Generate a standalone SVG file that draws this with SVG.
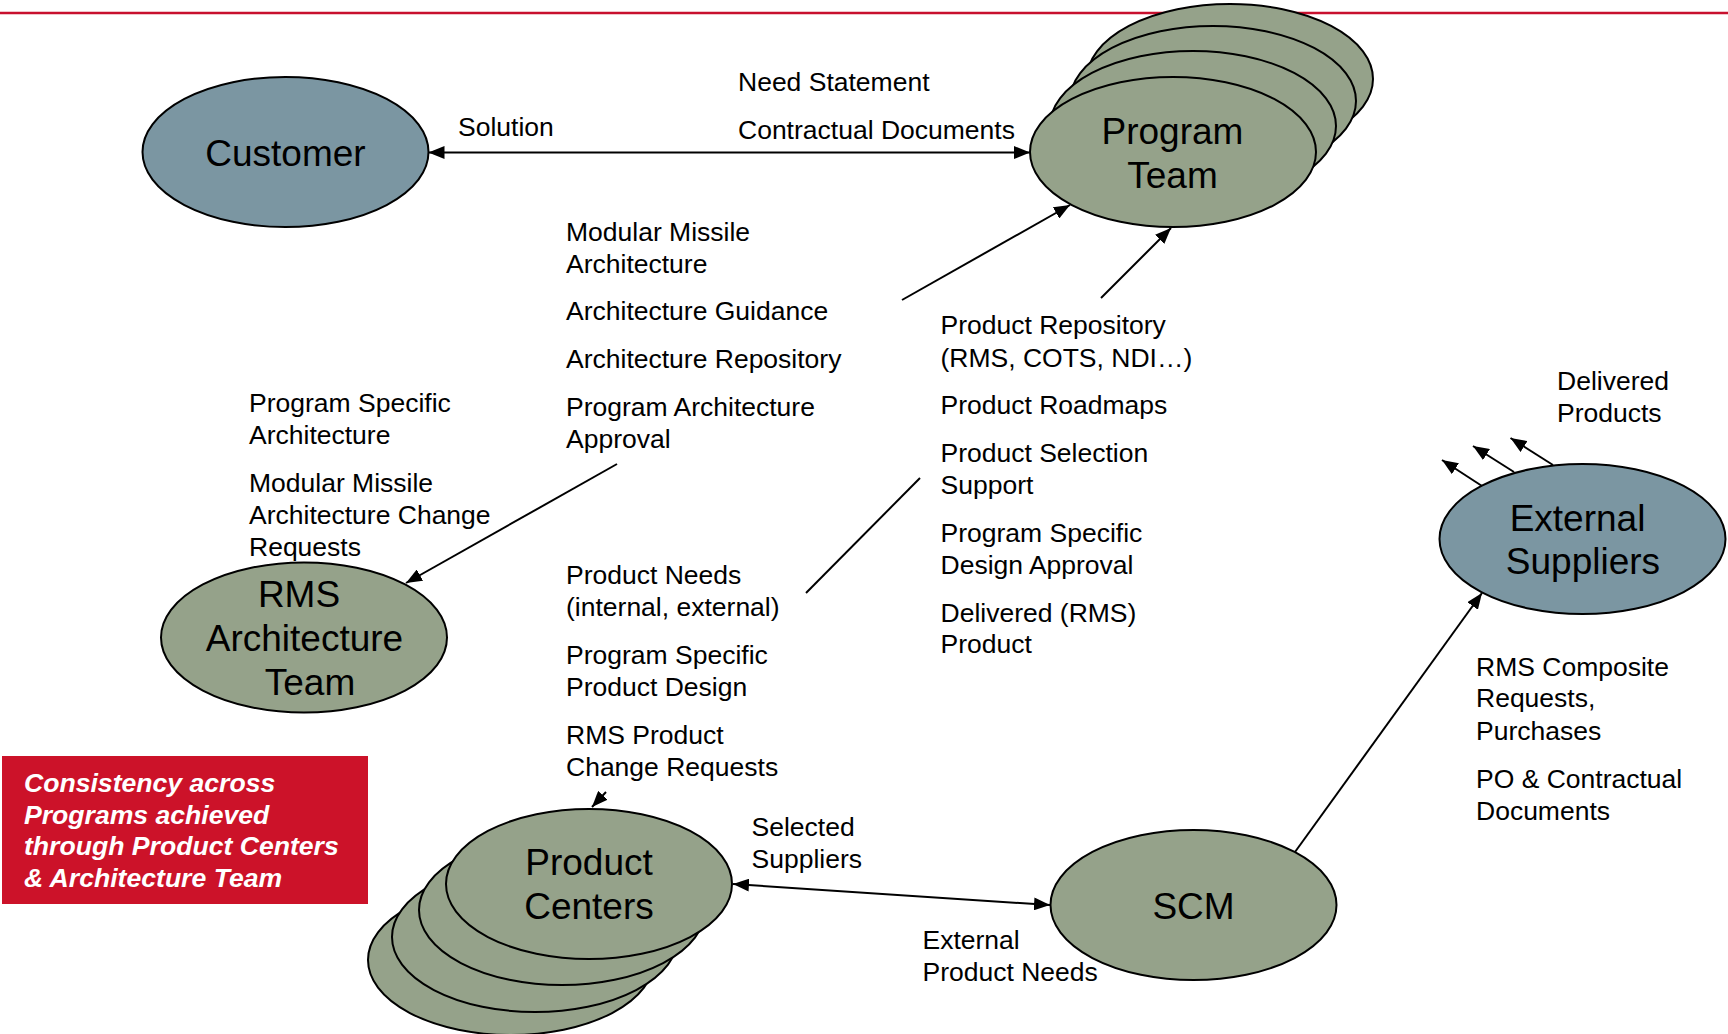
<svg xmlns="http://www.w3.org/2000/svg" width="1728" height="1034" viewBox="0 0 1728 1034">
<defs>
<style>
.blue{fill:#7b96a2;stroke:#000;stroke-width:2}
.green{fill:#95a28a;stroke:#000;stroke-width:2}
.nt{font-family:"Liberation Sans",Arial,sans-serif;font-size:37px;fill:#000;text-anchor:middle}
.lb{font-family:"Liberation Sans",Arial,sans-serif;font-size:26.5px;fill:#000}
.cn{stroke:#000;stroke-width:2;fill:none}
.note{font-family:"Liberation Sans",Arial,sans-serif;font-size:26.6px;font-weight:bold;font-style:italic;fill:#fff}
</style>
<marker id="ah" viewBox="0 0 16 13" refX="16" refY="6.5" markerWidth="16" markerHeight="13" markerUnits="userSpaceOnUse" orient="auto-start-reverse">
<path d="M0,0 L16,6.5 L0,13 z" fill="#000"/>
</marker>
</defs>
<rect width="1728" height="1034" fill="#fff"/>
<line x1="0" y1="13" x2="1728" y2="13" stroke="#c8102e" stroke-width="2.5"/>

<g id="customer">
<ellipse class="blue" cx="285.5" cy="152" rx="143" ry="75"/>
<text class="nt" x="285.5" y="166">Customer</text>
</g>

<g id="program-team">
<ellipse class="green" cx="1230" cy="79" rx="143" ry="75"/>
<ellipse class="green" cx="1213" cy="101" rx="143" ry="75"/>
<ellipse class="green" cx="1193" cy="126" rx="143" ry="75"/>
<ellipse class="green" cx="1173" cy="152" rx="143" ry="75"/>
<text class="nt"><tspan x="1172.5" y="143.5">Program</tspan><tspan x="1172.5" y="188">Team</tspan></text>
</g>

<g id="rms-architecture-team">
<ellipse class="green" cx="304" cy="637.5" rx="143" ry="75"/>
<text class="nt"><tspan x="299" y="606.5">RMS</tspan><tspan x="304.5" y="650.5">Architecture</tspan><tspan x="310" y="695">Team</tspan></text>
</g>

<g id="external-suppliers">
<ellipse class="blue" cx="1582.5" cy="539" rx="143" ry="75"/>
<text class="nt"><tspan x="1577.5" y="530.5">External</tspan><tspan x="1583" y="574">Suppliers</tspan></text>
</g>

<g id="product-centers">
<ellipse class="green" cx="511" cy="960" rx="143" ry="75"/>
<ellipse class="green" cx="535" cy="937" rx="143" ry="75"/>
<ellipse class="green" cx="562" cy="910" rx="143" ry="75"/>
<ellipse class="green" cx="589" cy="884" rx="143" ry="75"/>
<text class="nt"><tspan x="589" y="874.5">Product</tspan><tspan x="589" y="919">Centers</tspan></text>
</g>

<g id="scm">
<ellipse class="green" cx="1193.5" cy="905" rx="143" ry="75"/>
<text class="nt" x="1193.5" y="918.5">SCM</text>
</g>

<g id="note">
<rect x="2" y="756" width="366" height="148" fill="#cc1229"/>
<text class="note"><tspan x="24" y="792">Consistency across</tspan><tspan x="24" y="823.5">Programs achieved</tspan><tspan x="24" y="855">through Product Centers</tspan><tspan x="24" y="886.5">&amp; Architecture Team</tspan></text>
</g>

<g id="connectors">
<line class="cn" x1="428.5" y1="152.5" x2="1030" y2="152.5" marker-start="url(#ah)" marker-end="url(#ah)"/>
<line class="cn" x1="902" y1="300" x2="1070" y2="205" marker-end="url(#ah)"/>
<line class="cn" x1="1101" y1="298" x2="1171" y2="228" marker-end="url(#ah)"/>
<line class="cn" x1="617" y1="464" x2="406" y2="583" marker-end="url(#ah)"/>
<line class="cn" x1="920" y1="478" x2="806" y2="593"/>
<line class="cn" x1="606" y1="792" x2="592" y2="807" marker-end="url(#ah)"/>
<line class="cn" x1="733" y1="884" x2="1050" y2="905" marker-start="url(#ah)" marker-end="url(#ah)"/>
<line class="cn" x1="1295" y1="852" x2="1482" y2="593" marker-end="url(#ah)"/>
<line class="cn" x1="1482" y1="486" x2="1442" y2="460" marker-end="url(#ah)"/>
<line class="cn" x1="1514" y1="472" x2="1473" y2="446" marker-end="url(#ah)"/>
<line class="cn" x1="1553" y1="465" x2="1510.5" y2="438" marker-end="url(#ah)"/>
</g>

<g id="labels">
<text class="lb" x="458" y="136">Solution</text>
<text class="lb" x="738" y="90.5">Need Statement</text>
<text class="lb" x="738" y="138.5">Contractual Documents</text>
<text class="lb"><tspan x="566" y="240.5">Modular Missile</tspan><tspan x="566" y="272.5">Architecture</tspan><tspan x="566" y="320">Architecture Guidance</tspan><tspan x="566" y="368">Architecture Repository</tspan><tspan x="566" y="415.5">Program Architecture</tspan><tspan x="566" y="447.5">Approval</tspan></text>
<text class="lb"><tspan x="249" y="412">Program Specific</tspan><tspan x="249" y="444">Architecture</tspan><tspan x="249" y="492">Modular Missile</tspan><tspan x="249" y="524">Architecture Change</tspan><tspan x="249" y="556">Requests</tspan></text>
<text class="lb"><tspan x="566" y="584">Product Needs</tspan><tspan x="566" y="616">(internal, external)</tspan><tspan x="566" y="663.5">Program Specific</tspan><tspan x="566" y="695.5">Product Design</tspan><tspan x="566" y="744">RMS Product</tspan><tspan x="566" y="775.5">Change Requests</tspan></text>
<text class="lb"><tspan x="940.5" y="334">Product Repository</tspan><tspan x="940.5" y="366.5">(RMS, COTS, NDI…)</tspan><tspan x="940.5" y="413.5">Product Roadmaps</tspan><tspan x="940.5" y="462">Product Selection</tspan><tspan x="940.5" y="494">Support</tspan><tspan x="940.5" y="541.5">Program Specific</tspan><tspan x="940.5" y="573.5">Design Approval</tspan><tspan x="940.5" y="621.5">Delivered (RMS)</tspan><tspan x="940.5" y="653">Product</tspan></text>
<text class="lb"><tspan x="1557" y="390">Delivered</tspan><tspan x="1557" y="422">Products</tspan></text>
<text class="lb"><tspan x="1476" y="675.5">RMS Composite</tspan><tspan x="1476" y="707">Requests,</tspan><tspan x="1476" y="739.5">Purchases</tspan><tspan x="1476" y="787.5">PO &amp; Contractual</tspan><tspan x="1476" y="819.5">Documents</tspan></text>
<text class="lb"><tspan x="751.5" y="835.5">Selected</tspan><tspan x="751.5" y="867.5">Suppliers</tspan></text>
<text class="lb"><tspan x="922.5" y="948.5">External</tspan><tspan x="922.5" y="980.5">Product Needs</tspan></text>
</g>
</svg>
